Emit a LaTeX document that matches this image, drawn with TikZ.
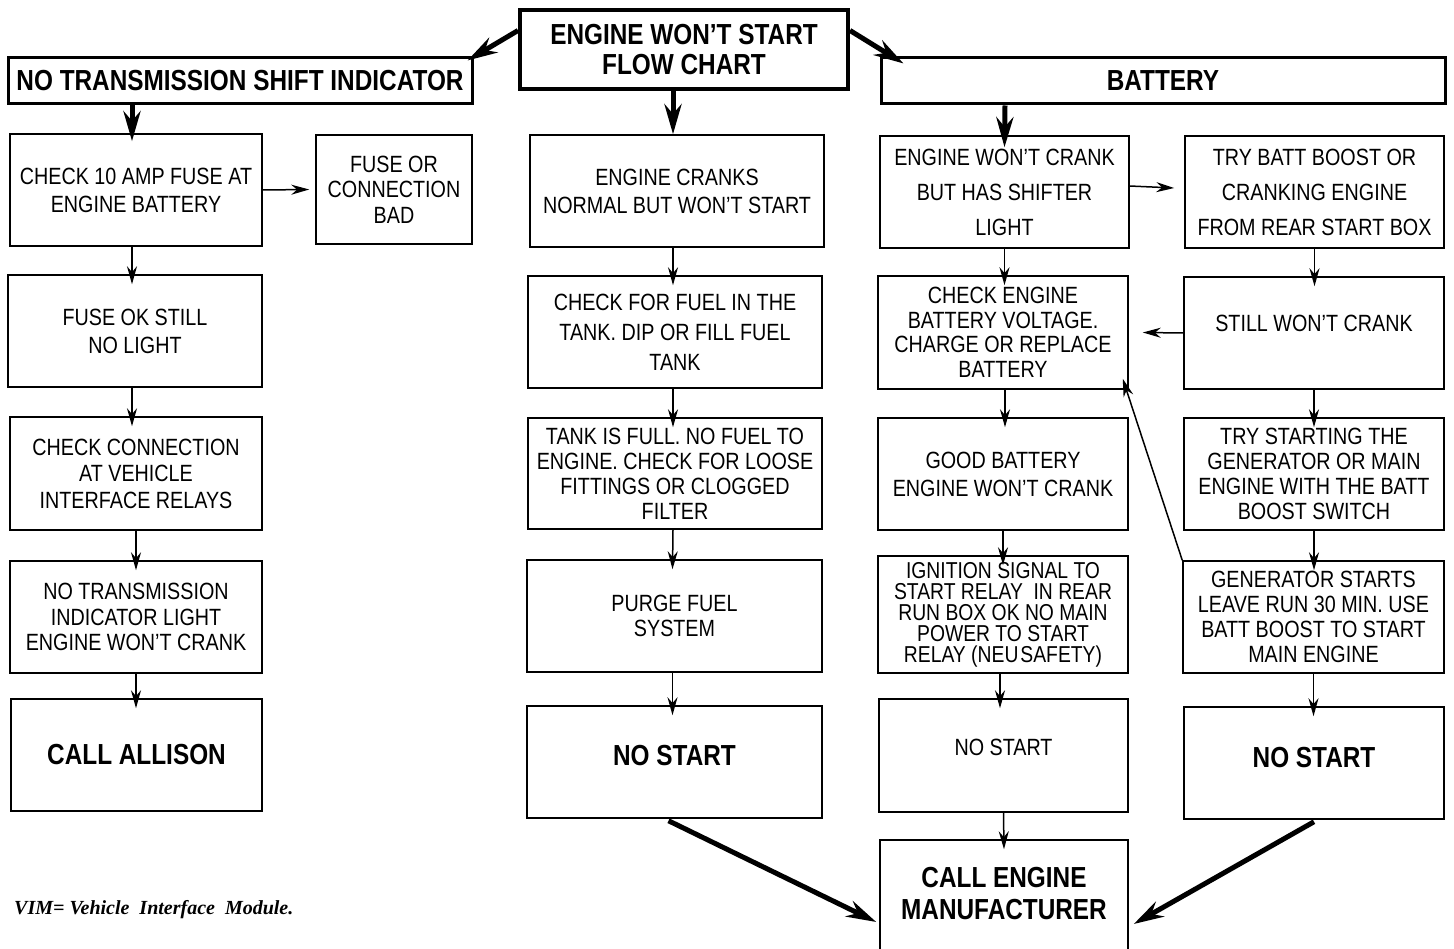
\documentclass[tikz,border=0pt]{standalone}
\usepackage{fontspec}
\setmainfont{Liberation Sans}[FakeStretch=0.84]
\newfontfamily\vimfont{Liberation Serif}
\usetikzlibrary{arrows.meta}
\begin{document}
\begin{tikzpicture}[x=1pt,y=-1pt,
  box/.style={draw, line width=1.5pt, align=center, inner sep=0pt, font=\fontsize{23.5}{28}\selectfont},
  boldbox/.style={box, font=\bfseries\fontsize{29}{32}\selectfont},
  hbox/.style={draw, line width=4pt, align=center, inner sep=0pt, font=\bfseries\fontsize{29}{30}\selectfont},
  thinarrow/.style={line width=1.5pt, -{Stealth[length=18pt,width=10pt]}},
  thickarrow/.style={line width=5pt, -{Stealth[length=30pt,width=17pt]}},
]
\useasboundingbox (0,0) rectangle (1454,949);

% headers
\node[hbox, minimum width=328pt, minimum height=79pt] (title) at (684,49.5) {ENGINE WON’T START\\FLOW CHART};
\node[hbox, line width=3pt, minimum width=464pt, minimum height=46pt] (ntsi) at (240,81) {NO TRANSMISSION SHIFT INDICATOR};
\node[hbox, line width=3pt, minimum width=564pt, minimum height=46pt] (batt) at (1163,81) {BATTERY};

% column 1
\node[box, minimum width=252pt, minimum height=112pt] (b1) at (136,190) {CHECK 10 AMP FUSE AT\\ENGINE BATTERY};
\node[box, minimum width=156pt, minimum height=109pt, font=\fontsize{23.5}{25.5}\selectfont] (fb) at (394,189.5) {FUSE OR\\CONNECTION\\BAD};
\node[box, minimum width=254pt, minimum height=112pt] (b2) at (135,331) {FUSE OK STILL\\NO LIGHT};
\node[box, minimum width=252pt, minimum height=113pt, font=\fontsize{23.5}{26.5}\selectfont] (b3) at (136,473.5) {CHECK CONNECTION\\AT VEHICLE\\INTERFACE RELAYS};
\node[box, minimum width=252pt, minimum height=112pt, font=\fontsize{23.5}{25.5}\selectfont] (b4) at (136,617) {NO TRANSMISSION\\INDICATOR LIGHT\\ENGINE WON’T CRANK};
\node[boldbox, minimum width=251pt, minimum height=112pt] (b5) at (136.5,755) {CALL ALLISON};

% column 2
\node[box, minimum width=294pt, minimum height=112pt] (c1) at (677,191) {ENGINE CRANKS\\NORMAL BUT WON’T START};
\node[box, minimum width=294pt, minimum height=112pt, font=\fontsize{23.5}{30}\selectfont] (c2) at (675,332) {CHECK FOR FUEL IN THE\\TANK. DIP OR FILL FUEL\\TANK};
\node[box, minimum width=294pt, minimum height=111pt, font=\fontsize{23.5}{25}\selectfont] (c3) at (675,473.5) {TANK IS FULL. NO FUEL TO\\ENGINE. CHECK FOR LOOSE\\FITTINGS OR CLOGGED\\FILTER};
\node[box, minimum width=295pt, minimum height=112pt, font=\fontsize{23.5}{25.5}\selectfont] (c4) at (674.5,616) {PURGE FUEL\\SYSTEM};
\node[boldbox, minimum width=295pt, minimum height=112pt] (c5) at (674.5,762) {NO START\\[-18pt]};

% column 3
\node[box, minimum width=249pt, minimum height=112pt, font=\fontsize{23.5}{35}\selectfont] (d1) at (1004.5,192) {ENGINE WON’T CRANK\\BUT HAS SHIFTER\\LIGHT};
\node[box, minimum width=250pt, minimum height=113pt, font=\fontsize{23.5}{24.5}\selectfont] (d2) at (1003,332.5) {CHECK ENGINE\\BATTERY VOLTAGE.\\CHARGE OR REPLACE\\BATTERY};
\node[box, minimum width=250pt, minimum height=112pt] (d3) at (1003,474) {GOOD BATTERY\\ENGINE WON’T CRANK};
\node[box, minimum width=250pt, minimum height=117pt, font=\fontsize{23}{21}\selectfont] (d4) at (1003,614.5) {IGNITION SIGNAL TO\\START RELAY\ \ IN REAR\\RUN BOX OK NO MAIN\\POWER TO START\\RELAY (NEU\kern2pt SAFETY)};
\node[box, minimum width=249pt, minimum height=113pt] (d5) at (1003.5,755.5) {NO START\\[-12pt]};
\node[boldbox, minimum width=248pt, minimum height=118pt] (d6) at (1004,899) {CALL ENGINE\\MANUFACTURER\\[-20pt]};

% column 4
\node[box, minimum width=259pt, minimum height=112pt, font=\fontsize{23.5}{35}\selectfont] (e1) at (1314.5,192) {TRY BATT BOOST OR\\CRANKING ENGINE\\FROM REAR START BOX};
\node[box, minimum width=260pt, minimum height=112pt] (e2) at (1314,333) {STILL WON’T CRANK\\[-8pt]};
\node[box, minimum width=260pt, minimum height=112pt, font=\fontsize{23.5}{25}\selectfont] (e3) at (1314,474) {TRY STARTING THE\\GENERATOR OR MAIN\\ENGINE WITH THE BATT\\BOOST SWITCH};
\node[box, minimum width=261pt, minimum height=112pt, font=\fontsize{23.5}{25}\selectfont] (e4) at (1313.5,617) {GENERATOR STARTS\\LEAVE RUN 30 MIN. USE\\BATT BOOST TO START\\MAIN ENGINE};
\node[boldbox, minimum width=260pt, minimum height=112pt] (e5) at (1314,763) {NO START\\[-20pt]};

% footnote
\node[anchor=west, inner sep=0pt, font=\vimfont\bfseries\itshape\fontsize{20}{22}\selectfont] (vim) at (14,910) {VIM= Vehicle\ \ Interface\ \ Module.};

% thick arrows
\draw[thickarrow] ([yshift=19pt]title.west) -- ([xshift=-6pt,yshift=-4pt]ntsi.north east);
\draw[thickarrow] ([yshift=19pt]title.east) -- ([xshift=24pt,yshift=-7pt]batt.north west);
\draw[thickarrow] ([xshift=-11pt]title.south) -- ([xshift=-4pt]c1.north);
\draw[thickarrow] ([xshift=-108pt]ntsi.south) -- ([xshift=-4pt,yshift=-8pt]b1.north);
\draw[thickarrow] ([xshift=-158pt]batt.south) -- ([yshift=-12pt]d1.north);
\draw[thickarrow] ([xshift=-6pt,yshift=-2pt]c5.south) -- ([xshift=-3pt,yshift=-23pt]d6.west);
\draw[thickarrow] ([yshift=-2pt]e5.south) -- ([xshift=5pt,yshift=-25pt]d6.east);

% thin arrows, column 1
\draw[thinarrow] (b1.east) -- ([xshift=-6pt]fb.west);
\draw[thinarrow] ([xshift=-4pt]b1.south) -- ([xshift=-3pt,yshift=-10pt]b2.north);
\draw[thinarrow] ([xshift=-3pt]b2.south) -- ([xshift=-4pt,yshift=-10pt]b3.north);
\draw[thinarrow] (b3.south) -- ([yshift=-10pt]b4.north);
\draw[thinarrow] (b4.south) -- ([xshift=-0.5pt,yshift=-10pt]b5.north);
% column 2
\draw[thinarrow] ([xshift=-4pt]c1.south) -- ([xshift=-2pt,yshift=-10pt]c2.north);
\draw[thinarrow] ([xshift=-2pt]c2.south) -- ([xshift=-2pt,yshift=-10pt]c3.north);
\draw[thinarrow] ([xshift=-2pt]c3.south) -- ([xshift=-2pt,yshift=-10pt]c4.north);
\draw[thinarrow] ([xshift=-2pt]c4.south) -- ([xshift=-2pt,yshift=-10pt]c5.north);
% column 3
\draw[thinarrow] (d1.south) -- ([xshift=1.5pt,yshift=-10pt]d2.north);
\draw[thinarrow] ([xshift=2pt]d2.south) -- ([xshift=2pt,yshift=-10pt]d3.north);
\draw[thinarrow] (d3.south) -- ([yshift=-10pt]d4.north);
\draw[thinarrow] ([xshift=-3pt]d4.south) -- ([xshift=-3.5pt,yshift=-10pt]d5.north);
\draw[thinarrow] (d5.south) -- ([yshift=-10pt]d6.north);
% column 4
\draw[thinarrow] (e1.south) -- ([xshift=0.5pt,yshift=-10pt]e2.north);
\draw[thinarrow] (e2.south) -- ([yshift=-10pt]e3.north);
\draw[thinarrow] (e3.south) -- ([xshift=0.5pt,yshift=-10pt]e4.north);
\draw[thinarrow] (e4.south) -- ([xshift=-0.5pt,yshift=-10pt]e5.north);
% cross links
\draw[thinarrow] ([yshift=6pt]d1.east) -- ([xshift=-10pt,yshift=4pt]e1.west);
\draw[thinarrow] (e2.west) -- ([xshift=14pt]d2.east);
\draw[thinarrow] (e4.north west) -- ([xshift=-6pt,yshift=11pt]d2.south east);
\end{tikzpicture}
\end{document}
